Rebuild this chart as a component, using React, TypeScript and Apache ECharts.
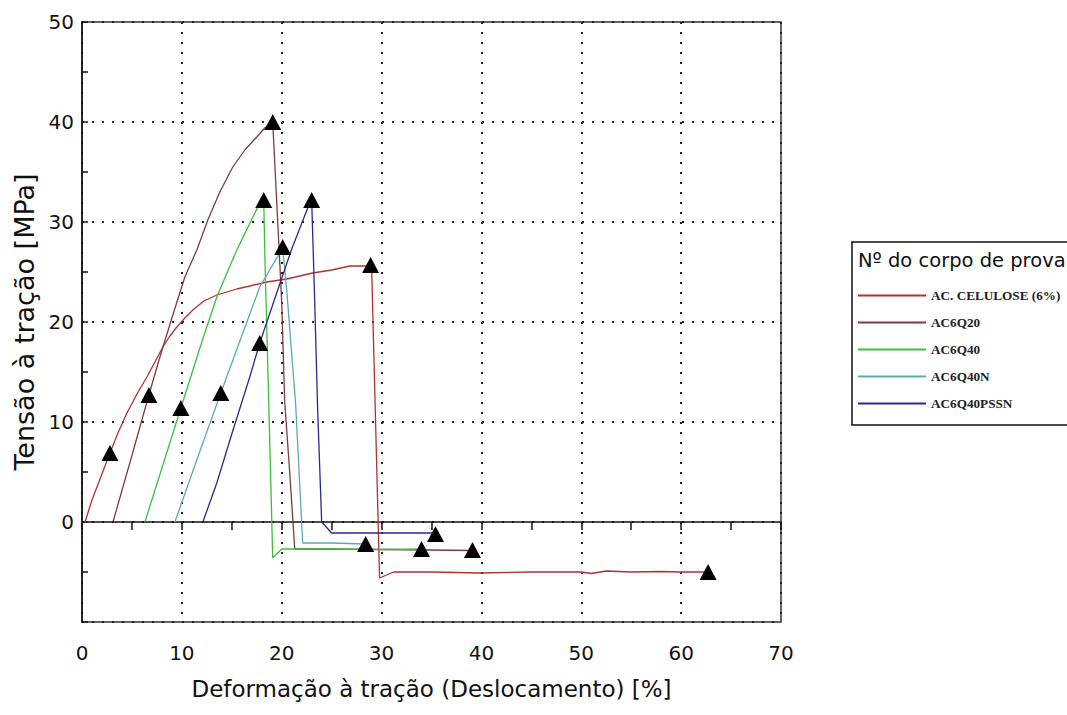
import React, { useEffect, useRef } from "react";
import * as echarts from "echarts";

const seriesNames = ["AC. CELULOSE (6%)", "AC6Q20", "AC6Q40", "AC6Q40N", "AC6Q40PSSN"];
const seriesColors = ["#b03232", "#7d3c3c", "#3cbf3c", "#5aacac", "#2a2a8c"];

const celulose: number[][] = [
  [0.3, 0], [1.0, 2.2], [2.0, 4.8], [2.8, 6.9], [3.6, 8.9], [4.5, 10.9], [5.5, 12.8],
  [6.5, 14.5], [7.3, 16.0], [8.1, 17.5], [8.8, 18.6], [9.5, 19.5], [10.3, 20.4],
  [11.1, 21.2], [12.2, 22.1], [13.5, 22.7], [15.5, 23.3], [18.5, 24.0], [20.5, 24.3],
  [23.1, 24.9], [25.0, 25.2], [26.8, 25.6], [29.0, 25.6], [29.8, -5.6], [30.5, -5.3],
  [31.2, -5.0], [35, -5.0], [40, -5.1], [45, -5.0], [50, -5.0], [51, -5.15], [52.5, -4.9],
  [55, -5.0], [58, -4.95], [60, -5.0], [62.5, -5.0],
];
const ac6q20: number[][] = [
  [3.1, 0], [4.9, 6.3], [6.7, 12.7], [7.8, 16.5], [9.0, 20.4], [10.3, 24.5], [11.5, 27.2],
  [12.6, 30.2], [13.8, 33.0], [15.1, 35.5], [16.3, 37.2], [17.5, 38.5], [18.3, 39.4],
  [19.1, 40.0], [19.6, 30.0], [20.0, 22.0], [20.3, 12.0], [20.8, 5.0],
  [21.3, -2.7], [22, -2.7], [30, -2.75], [35, -2.8], [39.1, -2.85],
];
const ac6q40: number[][] = [
  [6.3, 0], [9.9, 11.4], [12.0, 18.0], [13.5, 22.5], [15.5, 27.2], [17.8, 31.9], [18.2, 32.3],
  [18.3, 27.0], [18.7, 12.0], [19.1, -3.6], [20.0, -2.7], [25, -2.7], [30, -2.75], [34.1, -2.7],
];
const ac6q40n: number[][] = [
  [9.3, 0], [11.6, 6.5], [13.9, 12.9], [17.8, 23.5], [19.8, 26.9], [20.1, 27.4], [20.5, 23.2],
  [21.4, 11.7], [22.1, -2.1], [25, -2.1], [28.4, -2.2],
];
const ac6q40pssn: number[][] = [
  [12.1, 0], [13.5, 3.9], [15.0, 8.8], [16.8, 14.5], [17.8, 17.9], [19.6, 23.2], [21.0, 27.3],
  [22.8, 31.9], [23.0, 32.2], [23.3, 22.2], [23.6, 11.2], [24.0, 0], [25.0, -1.1], [30, -1.1],
  [35.1, -1.1],
];
const seriesData = [celulose, ac6q20, ac6q40, ac6q40n, ac6q40pssn];

const markerPoints: number[][] = [
  [2.8, 6.9], [28.9, 25.7], [62.7, -5.0],
  [6.7, 12.7], [19.1, 40.0], [39.1, -2.8],
  [9.9, 11.4], [18.2, 32.2], [34.0, -2.7],
  [13.9, 12.9], [20.1, 27.5], [28.4, -2.2],
  [17.8, 17.9], [23.0, 32.2], [35.4, -1.2],
];

const xTitle = "Deformação à tração (Deslocamento) [%]";
const yTitle = "Tensão à tração [MPa]";
const legendTitle = "Nº do corpo de prova";

const sans = "DejaVu Sans";

export default function App() {
  const ref = useRef<HTMLDivElement>(null);
  useEffect(() => {
    if (!ref.current) return;
    const chart = echarts.init(ref.current, null, { renderer: "svg" });
    const dotted = { color: "#222", width: 2, type: [2, 8] as any };
    chart.setOption({
      animation: false,
      backgroundColor: "#fff",
      grid: {
        left: 82, top: 22, right: 286, bottom: 93,
        show: true, borderColor: "#333", borderWidth: 1.5, backgroundColor: "transparent",
      },
      xAxis: {
        type: "value", min: 0, max: 70, interval: 10,
        name: xTitle, nameLocation: "middle", nameGap: 55,
        nameTextStyle: { fontFamily: sans, fontSize: 23, color: "#111" },
        axisLine: { show: true, lineStyle: { color: "#111", width: 1.5 } },
        axisTick: { show: true, inside: false, length: 8, lineStyle: { color: "#111", width: 1.5 } },
        minorTick: { show: true, splitNumber: 2, length: 8, lineStyle: { color: "#111", width: 1.5 } },
        axisLabel: { fontFamily: sans, fontSize: 20, color: "#111", margin: 21 },
        splitLine: { show: true, lineStyle: dotted },
      },
      yAxis: {
        type: "value", min: -10, max: 50, interval: 10,
        name: yTitle, nameLocation: "middle", nameGap: 38,
        nameTextStyle: { fontFamily: sans, fontSize: 27, color: "#111" },
        axisLine: { show: true, lineStyle: { color: "#111", width: 1.5 } },
        axisTick: { show: true, inside: true, length: 6, lineStyle: { color: "#111", width: 1.5 } },
        minorTick: { show: true, splitNumber: 2, length: 6, lineStyle: { color: "#111", width: 1.5 } },
        axisLabel: {
          fontFamily: sans, fontSize: 20, color: "#111", margin: 8,
          formatter: (v: number) => (v < 0 ? "" : String(v)),
        },
        splitLine: { show: true, lineStyle: dotted },
      },
      legend: {
        data: seriesNames,
        orient: "vertical",
        left: 857, top: 289, padding: 0,
        itemWidth: 68, itemHeight: 14, itemGap: 14,
        lineStyle: { width: 2 },
        itemStyle: { opacity: 0 },
        textStyle: { fontFamily: "Liberation Serif", fontWeight: "bold", fontSize: 13.2, color: "#222" },
        z: 20,
      },
      graphic: [
        {
          type: "rect", z: 10,
          shape: { x: 852, y: 242, width: 230, height: 183 },
          style: { fill: "#fff", stroke: "#111", lineWidth: 1.5 },
        },
        {
          type: "text", z: 11, left: 858, top: 250,
          style: { text: legendTitle, font: `19.5px "${sans}"`, fill: "#111" },
        },
      ],
      series: [
        ...seriesNames.map((name, i) => ({
          name, type: "line", data: seriesData[i], symbol: "none",
          lineStyle: { color: seriesColors[i], width: 1.3 },
          itemStyle: { color: seriesColors[i] },
          z: 3,
        })),
        {
          name: "markers", type: "scatter", data: markerPoints,
          symbol: "triangle", symbolSize: [17, 16],
          itemStyle: { color: "#000", opacity: 1 }, z: 5,
        },
      ],
    });
    return () => chart.dispose();
  }, []);
  return (
    <div
      ref={ref}
      style={{ position: "fixed", left: 0, top: 0, width: 1067, height: 715 }}
    />
  );
}
